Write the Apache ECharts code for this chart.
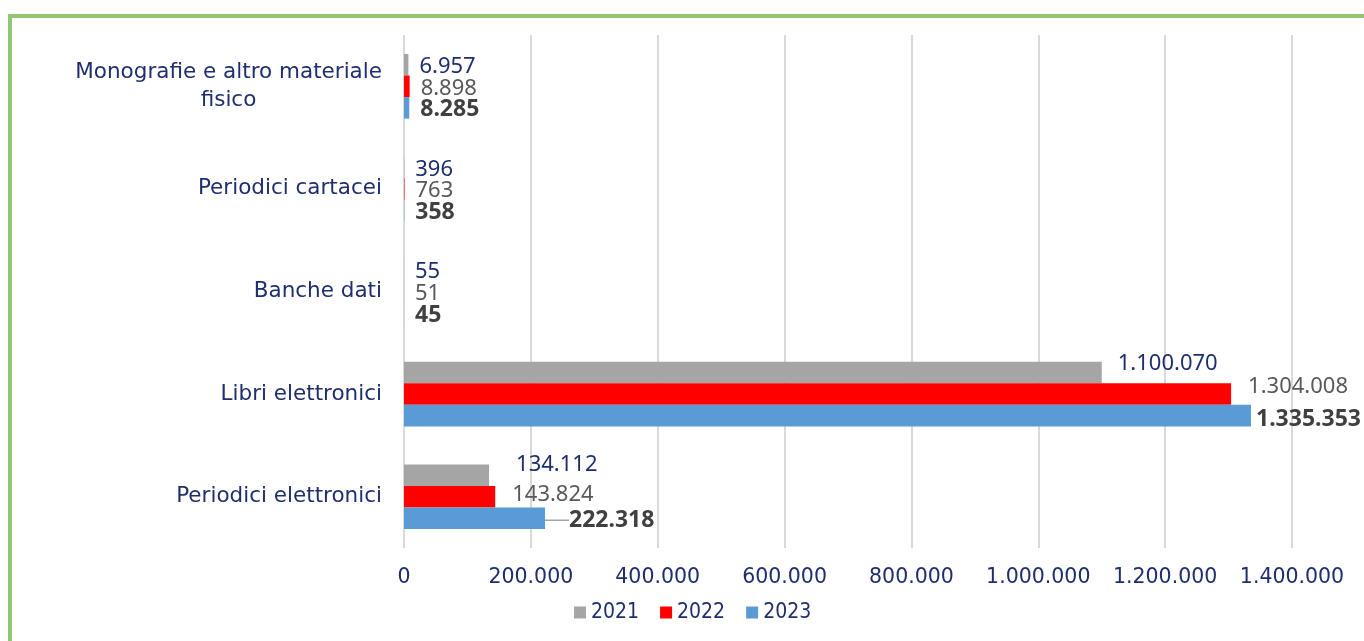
<!DOCTYPE html>
<html>
<head>
<meta charset="utf-8">
<script src="https://cdn.jsdelivr.net/npm/echarts@6/dist/echarts.min.js"></script>
<style>
	html, body { margin: 0; padding: 0; background: #fff; }
	#wrap { position: relative; width: 1364px; height: 641px; overflow: hidden; }
	#frame { position: absolute; left: 8px; top: 14px; width: 1500px; height: 800px; border: 4px solid #93c572; box-sizing: border-box; }
	#chart { position: absolute; left: 0; top: 0; width: 1364px; height: 641px; }
</style>
</head>
<body>
<div id="wrap">
	<div id="frame"></div>
	<div id="chart"></div>
</div>
<script>
// categorie (dall'alto verso il basso)
const categories = ['Monografie e altro materiale\nfisico', 'Periodici cartacei', 'Banche dati', 'Libri elettronici', 'Periodici elettronici'];
const years = ['2021', '2022', '2023'];
const values2021 = [6957, 396, 55, 1100070, 134112];
const values2022 = [8898, 763, 51, 1304008, 143824];
const values2023 = [8285, 358, 45, 1335353, 222318];
const xTicks = [0, 200000, 400000, 600000, 800000, 1000000, 1200000, 1400000];

const navy = '#1f2f6e';
const colors = ['#a5a5a5', '#ff0000', '#5b9bd5'];
const labelColors = [navy, '#595959', '#404040'];
const catFont = 21.5;

// spostamenti delle etichette (come in Excel)
const labelShift = {
	'0-3': [5, -9], '1-3': [6, -7], '2-3': [-6, 4],
	'0-4': [16, -10], '1-4': [6, -2], '2-4': [13, 2]
};

function fmt(v) {
	return String(v).replace(/\B(?=(\d{3})+(?!\d))/g, '.');
}

// larghezza della prima riga per centrare "fisico"
const ctx = document.createElement('canvas').getContext('2d');
ctx.font = catFont + 'px "DejaVu Sans"';
const firstLineW = Math.ceil(ctx.measureText('Monografie e altro materiale').width);

const chart = echarts.init(document.getElementById('chart'));

const allValues = [values2021, values2022, values2023];
const series = allValues.map((vals, s) => ({
	name: years[s],
	type: 'bar',
	barGap: 0,
	barCategoryGap: '37%',
	itemStyle: { color: colors[s] },
	data: vals.map((v, i) => ({
		value: v,
		labelLine: { show: s === 2 && i === 4, lineStyle: { color: '#a5a5a5', width: 1.5 } }
	})),
	label: {
		show: true,
		position: 'right',
		distance: 11,
		color: labelColors[s],
		fontFamily: 'Noto Sans',
		fontSize: s === 2 ? 23 : 22,
		fontWeight: s === 2 ? 'bold' : 'normal',
		formatter: p => fmt(p.value)
	},
	labelLayout: p => {
		const d = labelShift[s + '-' + p.dataIndex] || [0, 2];
		return { dx: d[0], dy: d[1] };
	}
}));

const option = {
	animation: false,
	grid: { left: 404, right: 72, top: 35, bottom: 93 },
	legend: {
		data: years,
		left: 569,
		top: 597,
		icon: 'rect',
		itemWidth: 12,
		itemHeight: 12,
		itemGap: 21,
		textStyle: { color: navy, fontFamily: '"DejaVu Sans Condensed", "DejaVu Sans"', fontSize: 21 }
	},
	xAxis: {
		type: 'value',
		min: 0,
		max: 1400000,
		interval: 200000,
		axisLine: { show: false },
		axisTick: { show: false },
		splitLine: { lineStyle: { color: '#d9d9d9', width: 2 } },
		axisLabel: {
			color: navy,
			fontFamily: 'DejaVu Sans',
			fontSize: 20.5,
			margin: 19,
			formatter: v => xTicks.indexOf(v) >= 0 ? fmt(v) : ''
		}
	},
	yAxis: {
		type: 'category',
		inverse: true,
		data: categories,
		axisLine: { show: false },
		axisTick: { show: false },
		axisLabel: {
			margin: 22,
			color: navy,
			fontFamily: 'DejaVu Sans',
			fontSize: catFont,
			lineHeight: 28,
			formatter: v => {
				const parts = v.split('\n');
				if (parts.length === 1) return v;
				return '{a|' + parts[0] + '}\n{b|' + parts[1] + '}';
			},
			rich: {
				a: { color: navy, fontFamily: 'DejaVu Sans', fontSize: catFont, lineHeight: 28 },
				b: { color: navy, fontFamily: 'DejaVu Sans', fontSize: catFont, lineHeight: 28, width: firstLineW, align: 'center' }
			}
		}
	},
	series: series
};

chart.setOption(option);

window.addEventListener('resize', () => {
	chart.resize();
});
</script>
</body>
</html>
